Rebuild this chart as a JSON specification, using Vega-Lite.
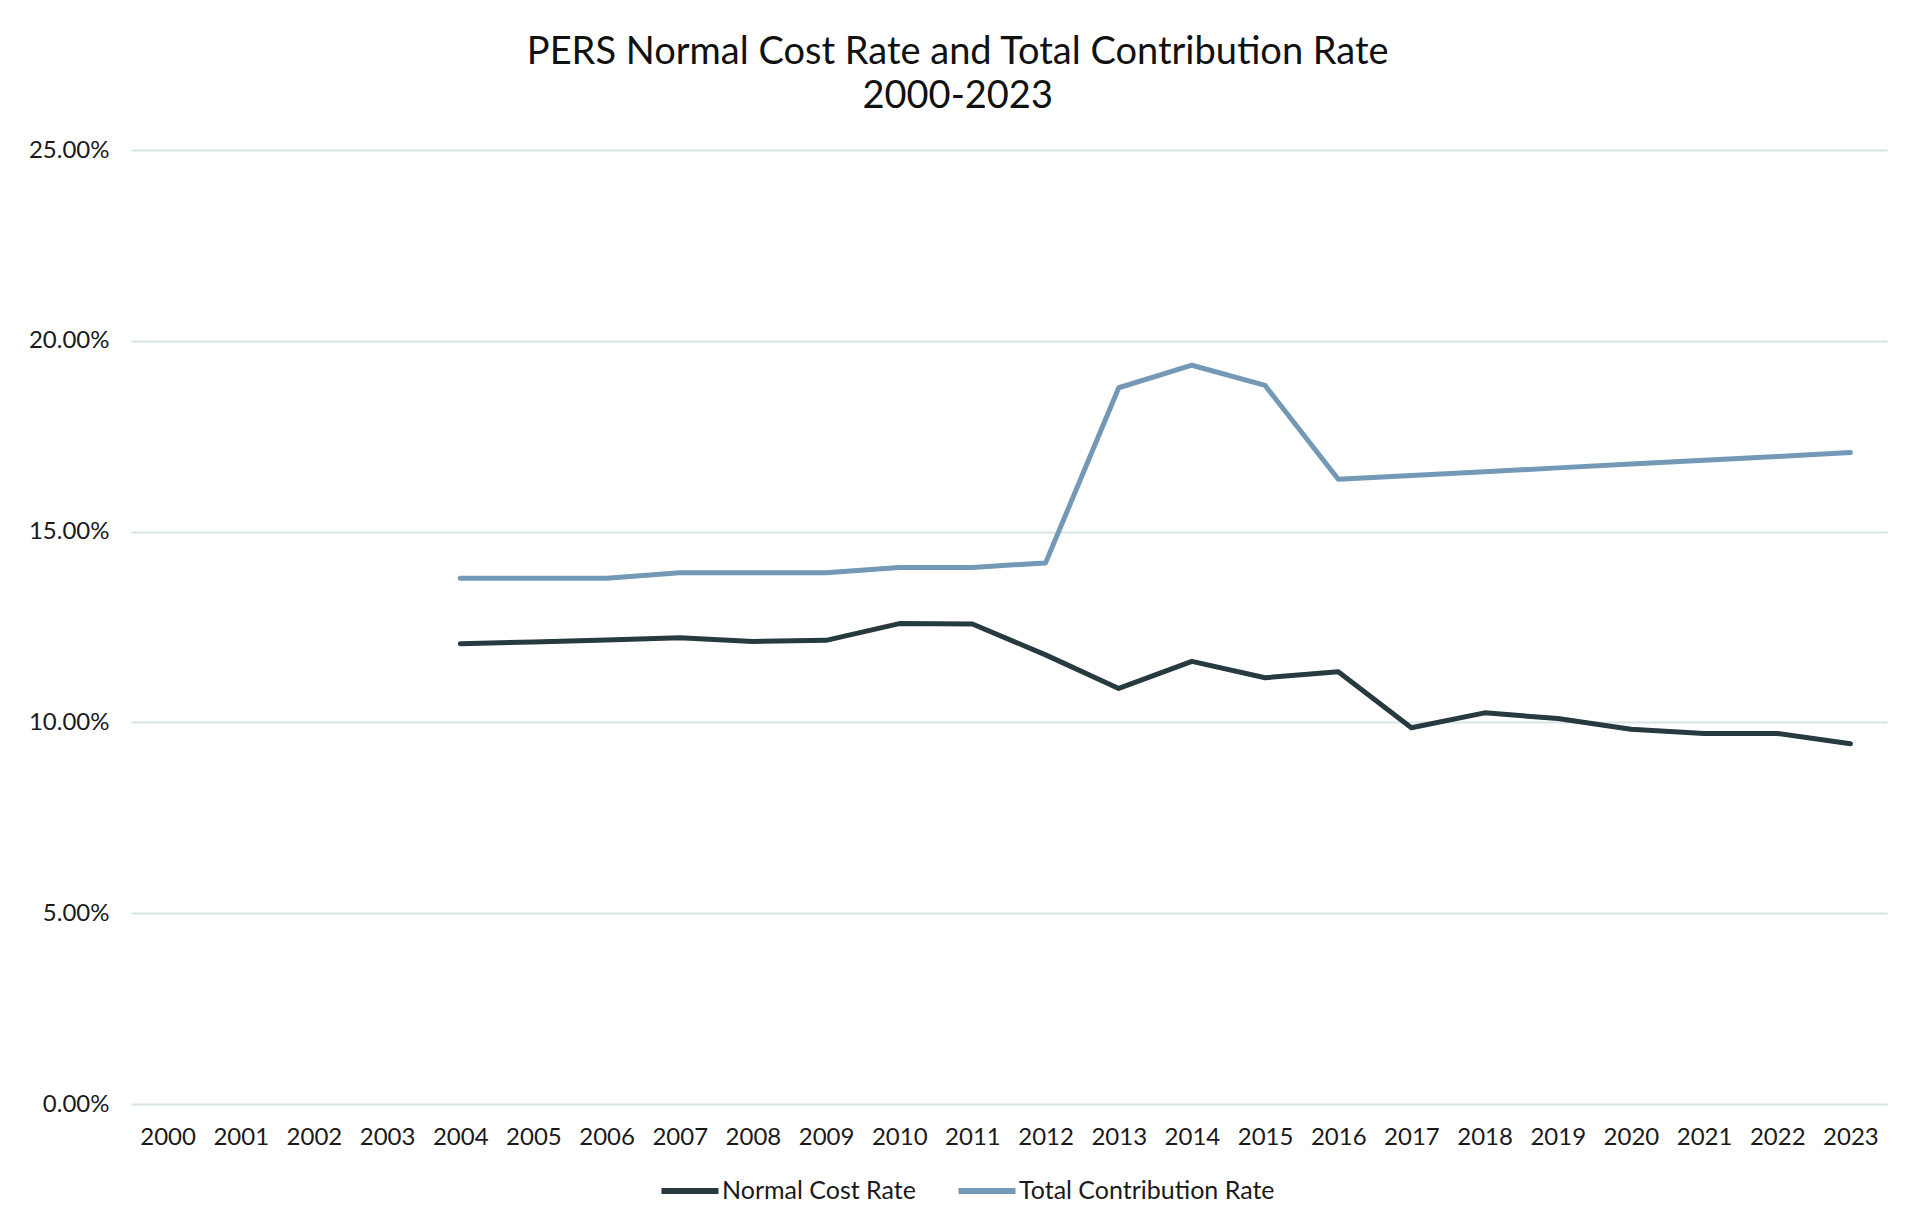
{
  "$schema": "https://vega.github.io/schema/vega-lite/v6.json",
  "width": 1756,
  "height": 954,
  "autosize": {"type": "none"},
  "padding": {"left": 131, "top": 150, "right": 38, "bottom": 120},
  "background": "white",
  "config": {
    "font": "Lato",
    "view": {"stroke": null},
    "title": {"font": "Lato", "fontSize": 38, "fontWeight": 400, "color": "#111111", "lineHeight": 44}
  },
  "title": {"text": ["PERS Normal Cost Rate and Total Contribution Rate", "2000-2023"], "anchor": "middle", "frame": "bounds", "offset": 22},
  "data": {
    "values": [
      {"year": 2004, "series": "Normal Cost Rate", "value": 0.1206},
      {"year": 2005, "series": "Normal Cost Rate", "value": 0.1211},
      {"year": 2006, "series": "Normal Cost Rate", "value": 0.1216},
      {"year": 2007, "series": "Normal Cost Rate", "value": 0.1222},
      {"year": 2008, "series": "Normal Cost Rate", "value": 0.1212},
      {"year": 2009, "series": "Normal Cost Rate", "value": 0.1215},
      {"year": 2010, "series": "Normal Cost Rate", "value": 0.1259},
      {"year": 2011, "series": "Normal Cost Rate", "value": 0.1258},
      {"year": 2012, "series": "Normal Cost Rate", "value": 0.1177},
      {"year": 2013, "series": "Normal Cost Rate", "value": 0.1089},
      {"year": 2014, "series": "Normal Cost Rate", "value": 0.1160},
      {"year": 2015, "series": "Normal Cost Rate", "value": 0.1117},
      {"year": 2016, "series": "Normal Cost Rate", "value": 0.1133},
      {"year": 2017, "series": "Normal Cost Rate", "value": 0.0986},
      {"year": 2018, "series": "Normal Cost Rate", "value": 0.1025},
      {"year": 2019, "series": "Normal Cost Rate", "value": 0.1010},
      {"year": 2020, "series": "Normal Cost Rate", "value": 0.0982},
      {"year": 2021, "series": "Normal Cost Rate", "value": 0.0971},
      {"year": 2022, "series": "Normal Cost Rate", "value": 0.0971},
      {"year": 2023, "series": "Normal Cost Rate", "value": 0.0944},
      {"year": 2004, "series": "Total Contribution Rate", "value": 0.1378},
      {"year": 2005, "series": "Total Contribution Rate", "value": 0.1378},
      {"year": 2006, "series": "Total Contribution Rate", "value": 0.1378},
      {"year": 2007, "series": "Total Contribution Rate", "value": 0.1392},
      {"year": 2008, "series": "Total Contribution Rate", "value": 0.1392},
      {"year": 2009, "series": "Total Contribution Rate", "value": 0.1392},
      {"year": 2010, "series": "Total Contribution Rate", "value": 0.1406},
      {"year": 2011, "series": "Total Contribution Rate", "value": 0.1406},
      {"year": 2012, "series": "Total Contribution Rate", "value": 0.1418},
      {"year": 2013, "series": "Total Contribution Rate", "value": 0.1877},
      {"year": 2014, "series": "Total Contribution Rate", "value": 0.1936},
      {"year": 2015, "series": "Total Contribution Rate", "value": 0.1883},
      {"year": 2016, "series": "Total Contribution Rate", "value": 0.1637},
      {"year": 2017, "series": "Total Contribution Rate", "value": 0.1647},
      {"year": 2018, "series": "Total Contribution Rate", "value": 0.1657},
      {"year": 2019, "series": "Total Contribution Rate", "value": 0.1667},
      {"year": 2020, "series": "Total Contribution Rate", "value": 0.1677},
      {"year": 2021, "series": "Total Contribution Rate", "value": 0.1687},
      {"year": 2022, "series": "Total Contribution Rate", "value": 0.1697},
      {"year": 2023, "series": "Total Contribution Rate", "value": 0.1707}
    ]
  },
  "mark": {"type": "line", "strokeWidth": 5, "strokeCap": "round", "strokeJoin": "round"},
  "encoding": {
    "x": {
      "field": "year",
      "type": "ordinal",
      "scale": {"domain": [2000,2001,2002,2003,2004,2005,2006,2007,2008,2009,2010,2011,2012,2013,2014,2015,2016,2017,2018,2019,2020,2021,2022,2023], "padding": 0.5},
      "axis": {"title": null, "labelAngle": 0, "domain": false, "ticks": false, "grid": false, "labelFontSize": 24, "labelColor": "#1a1a1a", "labelPadding": 21, "labelFont": "Lato"}
    },
    "y": {
      "field": "value",
      "type": "quantitative",
      "scale": {"domain": [0, 0.25], "nice": false},
      "axis": {"title": null, "format": ".2%", "values": [0, 0.05, 0.1, 0.15, 0.2, 0.25], "domain": false, "ticks": false, "grid": true, "gridColor": "#d6e4e6", "gridWidth": 2, "labelFontSize": 24, "labelColor": "#1a1a1a", "labelPadding": 22, "labelFont": "Lato"}
    },
    "color": {
      "field": "series",
      "type": "nominal",
      "scale": {"domain": ["Normal Cost Rate", "Total Contribution Rate"], "range": ["#263a40", "#7399b6"]},
      "legend": {"title": null, "orient": "none", "legendX": 527, "legendY": 1009, "direction": "horizontal", "symbolType": "stroke", "symbolSize": 3250, "symbolStrokeWidth": 6, "labelFontSize": 25, "labelColor": "#1a1a1a", "labelFont": "Lato", "labelOffset": 0, "labelLimit": 0, "columnPadding": 30}
    }
  }
}
